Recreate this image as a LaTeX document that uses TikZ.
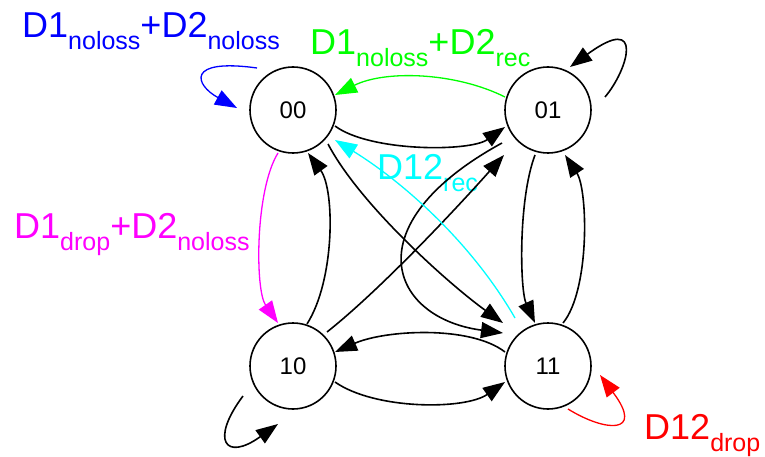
\documentclass[tikz,border=0pt]{standalone}
\usepackage{fontspec}
\setmainfont{Liberation Sans}
\usetikzlibrary{arrows.meta,calc}
\definecolor{cblue}{RGB}{0,0,255}
\definecolor{cgreen}{RGB}{0,255,0}
\definecolor{ccyan}{RGB}{0,255,255}
\definecolor{cmag}{RGB}{255,0,255}
\definecolor{cred}{RGB}{255,0,0}
\newcommand\sbs[1]{\raisebox{-12pt}{\fontsize{25}{25}\selectfont #1}}
\begin{document}
\begin{tikzpicture}[x=1pt,y=-1pt,
  state/.style={circle,draw,line width=1.6pt,minimum size=86pt,inner sep=0pt,font=\fontsize{24}{24}\selectfont},
  edge/.style={line width=1.6pt,-{Triangle[length=22pt,width=16pt]}},
  cedge/.style={line width=1.3pt,-{Triangle[length=22pt,width=16pt]}},
  lbl/.style={anchor=base west,inner sep=0pt,font=\fontsize{36}{36}\selectfont}]
\useasboundingbox (0,0) rectangle (765,457);
\node[state] (n00) at (293,110) {00};
\node[state] (n01) at (548,110) {01};
\node[state] (n10) at (293,366) {10};
\node[state] (n11) at (548,366) {11};
% labels
\node[lbl,text=cblue] (l1) at (22,38) {D1\sbs{noloss}+D2\sbs{noloss}};
\node[lbl,text=cgreen] (l2) at (310,55) {D1\sbs{noloss}+D2\sbs{rec}};
\node[lbl,text=ccyan] (l3) at (377,180) {D12\sbs{rec}};
\node[lbl,text=cmag] (l4) at (14,238) {D1\sbs{drop}+D2\sbs{noloss}};
\node[lbl,text=cred] (l5) at (644,439) {D12\sbs{drop}};
% edges
\draw[edge] ($(n00)+(42,16)$) .. controls (370,152) and (470,152) .. ($(n01)+(-43,17)$);
\draw[cedge,cgreen] ($(n01)+(-43,-13)$) .. controls (455,72) and (385,70) .. ($(n00)+(42,-15)$);
\draw[cedge,cblue] ($(n00)+(-36,-42)$) .. controls (185,58) and (195,85) .. ($(n00)+(-56,-2)$);
\draw[edge] ($(n01)+(57,-13)$) .. controls (628,70) and (645,12) .. ($(n01)+(22,-43)$);
\draw[edge] ($(n00)+(35,34)$) .. controls (360,205) and (450,285) .. ($(n11)+(-45,-43)$);
\draw[edge] ($(n01)+(-46,33)$) .. controls (352,225) and (390,318) .. ($(n11)+(-45,-33)$);
\draw[edge] ($(n10)+(34,-34)$) .. controls (380,290) and (455,210) .. ($(n01)+(-44,45)$);
\draw[cedge,ccyan] ($(n11)+(-33,-48)$) .. controls (470,240) and (400,180) .. ($(n00)+(42,30)$);
\draw[cedge,cmag] ($(n00)+(-15,43)$) .. controls (255,190) and (255,290) .. ($(n10)+(-15,-43)$);
\draw[edge] ($(n10)+(14,-42)$) .. controls (335,280) and (335,190) .. ($(n00)+(15,43)$);
\draw[edge] ($(n01)+(-13,45)$) .. controls (518,200) and (520,290) .. ($(n11)+(-13,-43)$);
\draw[edge] ($(n11)+(15,-43)$) .. controls (590,290) and (588,190) .. ($(n01)+(17,45)$);
\draw[edge] ($(n11)+(-43,-14)$) .. controls (470,325) and (385,330) .. ($(n10)+(42,-14)$);
\draw[edge] ($(n10)+(42,16)$) .. controls (375,410) and (465,410) .. ($(n11)+(-43,16)$);
\draw[edge] ($(n10)+(-50,30)$) .. controls (210,440) and (225,462) .. ($(n10)+(-15,58)$);
\draw[cedge,cred] ($(n11)+(20,43)$) .. controls (605,432) and (645,435) .. ($(n11)+(52,9)$);
\end{tikzpicture}
\end{document}
